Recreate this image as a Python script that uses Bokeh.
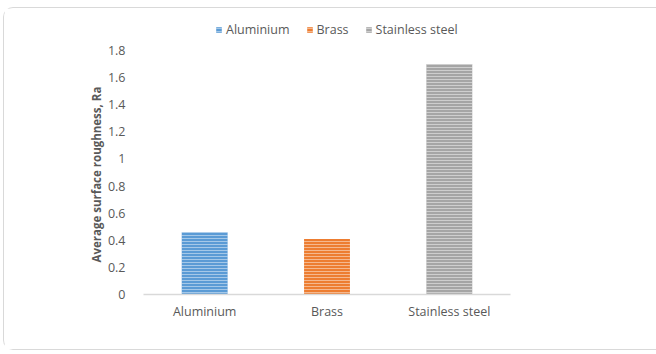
from bokeh.plotting import figure
from bokeh.models import (ColumnDataSource, FactorRange, Legend, LegendItem,
                          CustomJSTickFormatter, FixedTicker, Title)
from bokeh.embed import file_html
from bokeh.resources import INLINE

# Average surface roughness per workpiece material
materials = ["Aluminium", "Brass", "Stainless steel"]
roughness = [0.46, 0.41, 1.70]
bar_colors = ["#5B9BD5", "#ED7D31", "#A5A5A5"]
y_ticks = [0, 0.2, 0.4, 0.6, 0.8, 1.0, 1.2, 1.4, 1.6, 1.8]
y_label = "Average surface roughness, Ra"

TEXT = "#595959"
FONT = "Open Sans"
SIZE = "12.5px"

# The frame reaches up to the top edge so the legend can sit above the
# highest tick; 244 px of frame correspond to the 0..1.8 value span.
FRAME_H = 286
Y_END = FRAME_H * y_ticks[-1] / 244

source = ColumnDataSource(dict(material=materials, ra=roughness, color=bar_colors))

p = figure(
    x_range=FactorRange(*materials, range_padding=0),
    y_range=(0, Y_END),
    width=654, height=343,
    output_backend="svg", toolbar_location=None,
    min_border_left=139, min_border_right=148,
    min_border_top=0, min_border_bottom=57,
)
p.styles = {
    "margin-left": "3px", "margin-top": "7px",
    "border-left": "1px solid #d9d9d9", "border-top": "1px solid #d9d9d9",
    "border-bottom": "1px solid #d9d9d9",
    "border-top-left-radius": "10px", "border-bottom-left-radius": "10px",
}

bars = p.vbar(
    x="material", top="ra", width=0.375, source=source,
    fill_color="color", line_color=None,
    hatch_pattern="horizontal_line", hatch_color="white",
    hatch_alpha=0.45, hatch_scale=3, hatch_weight=1,
)

p.outline_line_color = None
p.xgrid.grid_line_color = None
p.ygrid.grid_line_color = None

xa = p.xaxis[0]
xa.axis_line_color = "#d9d9d9"
xa.axis_line_width = 1.5
xa.major_tick_line_color = None
xa.minor_tick_line_color = None
xa.major_label_text_font = FONT
xa.major_label_text_font_size = SIZE
xa.major_label_text_color = TEXT
xa.major_label_standoff = 2

ya = p.yaxis[0]
ya.ticker = FixedTicker(ticks=y_ticks)
ya.formatter = CustomJSTickFormatter(code="return tick.toFixed(1).replace(/\\.0$/, '');")
ya.axis_line_color = None
ya.major_tick_line_color = None
ya.minor_tick_line_color = None
ya.major_label_text_font = FONT
ya.major_label_text_font_size = SIZE
ya.major_label_text_color = TEXT
ya.major_label_standoff = 12

# vertical axis title, starting a little above the zero line
p.add_layout(Title(
    text=y_label, align="left", offset=32, standoff=1,
    text_font=FONT, text_font_size="11.5px", text_font_style="bold",
    text_color=TEXT,
), "left")

items = [LegendItem(label=m, renderers=[bars], index=i) for i, m in enumerate(materials)]
legend = Legend(
    items=items, orientation="horizontal", location=(72, 256),
    glyph_width=7, glyph_height=7, label_standoff=4, spacing=16,
    padding=0, margin=0, border_line_color=None, background_fill_alpha=0,
    label_text_font=FONT, label_text_font_size=SIZE, label_text_color=TEXT,
    label_height=16,
)
p.add_layout(legend)

open("out.html", "w").write(file_html(p, INLINE))
